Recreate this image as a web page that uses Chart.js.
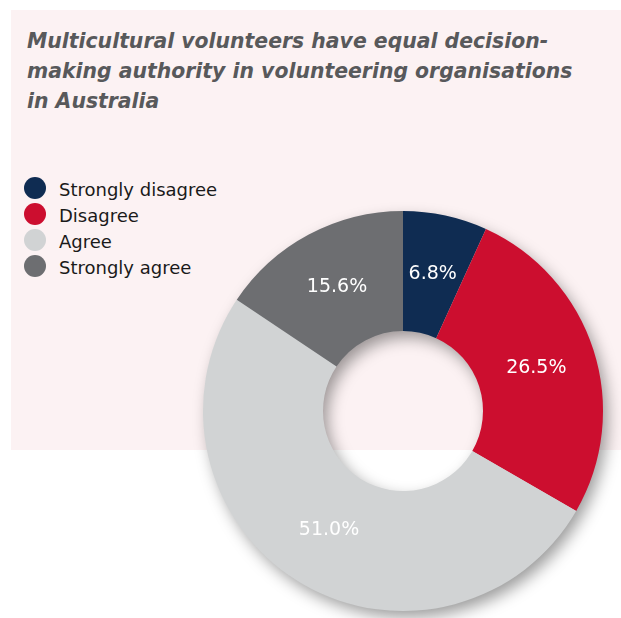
<!DOCTYPE html>
<html>
<head>
<meta charset="utf-8">
<script src="https://cdn.jsdelivr.net/npm/chart.js@4.4.1/dist/chart.umd.min.js"></script>
<style>
    body { margin: 0; width: 621px; height: 618px; position: relative; overflow: hidden; background: #fff; font-family: "DejaVu Sans", Verdana, sans-serif; }
    .panel { position: absolute; left: 11px; top: 10px; right: 0; height: 440px; background: #fcf2f3; }
    .title { position: absolute; left: 27px; top: 26px; margin: 0; font-size: 20.4px; line-height: 30px; font-weight: bold; font-style: italic; color: #58595b; }
    .legend { position: absolute; left: 0; top: 0; }
    .legend-item { position: absolute; left: 24px; height: 26px; white-space: nowrap; }
    .legend-dot { position: absolute; left: 0; top: 2px; width: 22px; height: 22px; border-radius: 50%; }
    .legend-text { position: absolute; left: 35px; top: 2px; font-size: 18px; line-height: 26px; color: #1a1a1a; }
    #chart { position: absolute; left: 0; top: 0; }
</style>
</head>
<body>
<div class="panel"></div>
<h1 class="title">Multicultural volunteers have equal decision-<br>making authority in volunteering organisations<br>in Australia</h1>
<div class="legend" id="legend"></div>
<canvas id="chart" width="621" height="618"></canvas>

<script>
    const categories = ["Strongly disagree", "Disagree", "Agree", "Strongly agree"];
    const shares = [6.8, 26.5, 51.0, 15.6];
    const sliceColors = ["#0f2c52", "#cc0e2f", "#d1d3d4", "#6d6e71"];

    // legend rows, top-left of the panel
    let html = "";
    categories.forEach((name, i) => {
        html += '<div class="legend-item" style="top:' + (175 + i * 26) + 'px">';
        html += '<span class="legend-dot" style="background:' + sliceColors[i] + '"></span>';
        html += '<span class="legend-text">' + name + '</span>';
        html += '</div>';
    });
    document.getElementById("legend").innerHTML = html;

    // soft drop shadow under the whole ring
    const ringShadow = {
        id: "ringShadow",
        beforeDatasetsDraw(chart) {
            const arc = chart.getDatasetMeta(0).data[0];
            if (!arc) return;
            const ctx = chart.ctx;
            ctx.save();
            ctx.shadowColor = "rgba(0, 0, 0, 0.4)";
            ctx.shadowBlur = 16;
            ctx.shadowOffsetX = 5;
            ctx.shadowOffsetY = 7;
            ctx.beginPath();
            ctx.arc(arc.x, arc.y, arc.outerRadius - 1, 0, Math.PI * 2);
            ctx.arc(arc.x, arc.y, arc.innerRadius + 1, 0, Math.PI * 2, true);
            ctx.fillStyle = sliceColors[2];
            ctx.fill("evenodd");
            ctx.restore();
        }
    };

    // percentage in the middle of each slice
    const sliceLabels = {
        id: "sliceLabels",
        afterDatasetsDraw(chart) {
            const ctx = chart.ctx;
            const values = chart.data.datasets[0].data;
            ctx.save();
            ctx.font = "19px 'DejaVu Sans'";
            ctx.fillStyle = "#ffffff";
            ctx.textAlign = "center";
            ctx.textBaseline = "middle";
            chart.getDatasetMeta(0).data.forEach((arc, i) => {
                const pos = arc.tooltipPosition();
                ctx.fillText(values[i].toFixed(1) + "%", pos.x, pos.y);
            });
            ctx.restore();
        }
    };

    const ctx = document.getElementById("chart");
    new Chart(ctx, {
        type: "doughnut",
        data: {
            labels: categories,
            datasets: [{
                data: shares,
                backgroundColor: sliceColors,
                borderWidth: 0
            }]
        },
        options: {
            responsive: false,
            animation: false,
            cutout: "40%",
            layout: { padding: { left: 203, top: 211, right: 18, bottom: 7 } },
            plugins: {
                legend: { display: false },
                title: { display: false },
                tooltip: { enabled: false }
            }
        },
        plugins: [ringShadow, sliceLabels]
    });
</script>
</body>
</html>
